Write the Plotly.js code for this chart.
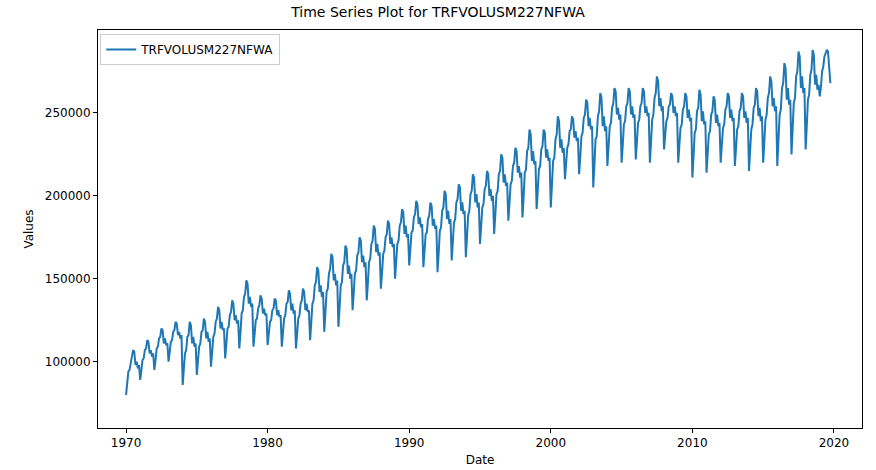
<!DOCTYPE html>
<html>
<head>
<meta charset="utf-8">
<script src="https://cdn.plot.ly/plotly-3.0.1.min.js"></script>
<style>body{margin:0;background:#fff}#chart{width:876px;height:470px}</style>
</head>
<body>
<div id="chart"></div>
<script>
// monthly values in thousands, one row per year, starting 1970
var startYear = 1970;
var rows = [
  [80,87,94,95,100,102,107,106,98,100,96,98],
  [89,95,101,102,107,108,113,112,105,107,103,105],
  [95,101,108,109,114,115,120,119,111,114,110,111],
  [100,106,112,113,118,119,124,123,116,118,114,116],
  [86,96,105,107,115,116,124,122,111,115,109,111],
  [92,101,109,111,118,119,126,124,114,118,112,114],
  [97,106,115,117,124,126,133,131,120,124,119,120],
  [102,111,120,121,128,130,137,135,125,128,123,125],
  [108,118,129,131,139,141,149,147,135,139,133,135],
  [109,117,125,126,132,134,140,138,129,132,128,129],
  [110,117,124,125,131,132,138,137,128,131,127,128],
  [109,118,126,128,135,136,143,141,131,135,129,131],
  [108,117,126,128,135,137,144,142,131,135,130,131],
  [113,124,135,137,146,148,157,155,142,146,139,142],
  [118,130,142,144,153,156,165,163,149,153,146,149],
  [121,133,146,148,158,160,170,168,153,158,150,153],
  [131,142,153,155,164,166,175,173,160,164,157,160],
  [137,148,160,162,171,173,182,180,166,171,164,166],
  [144,154,165,167,175,177,185,183,171,175,169,171],
  [150,161,171,173,182,184,192,190,177,182,175,177],
  [158,168,178,179,187,189,197,195,183,187,181,183],
  [157,167,177,178,186,188,196,194,182,186,180,182],
  [154,166,179,181,191,193,203,201,186,191,183,186],
  [161,173,184,186,196,198,207,205,191,196,189,191],
  [163,176,188,191,201,203,213,211,196,201,193,196],
  [171,182,193,195,204,206,215,213,200,204,197,200],
  [177,189,201,203,213,215,225,223,208,213,206,208],
  [185,196,207,209,218,220,229,227,214,218,211,214],
  [187,200,214,216,227,229,240,237,221,227,219,221],
  [192,204,216,218,228,230,240,238,223,228,221,223],
  [193,207,221,223,234,237,248,245,229,234,226,229],
  [210,220,229,231,239,240,248,246,235,239,233,235],
  [213,224,236,238,247,249,258,256,242,247,240,242],
  [205,219,234,236,248,251,262,259,242,248,239,242],
  [218,230,242,244,253,256,265,263,249,253,246,249],
  [220,231,243,245,254,256,265,263,249,254,247,249],
  [222,233,244,246,254,256,265,263,250,254,248,250],
  [220,233,246,249,259,262,272,269,254,259,251,254],
  [228,237,245,247,254,255,262,260,250,254,248,250],
  [220,231,241,243,252,254,262,260,247,252,245,247],
  [211,224,238,240,251,253,264,261,245,251,243,245],
  [214,226,237,239,249,251,260,258,244,249,242,244],
  [220,231,241,243,252,254,262,260,247,252,245,247],
  [218,229,240,242,251,253,262,260,247,251,244,247],
  [215,228,240,243,253,255,265,263,248,253,245,248],
  [220,233,246,249,259,262,272,269,254,259,251,254],
  [218,234,249,252,265,268,280,277,258,265,255,258],
  [225,241,256,259,272,275,287,284,265,272,262,265],
  [228,243,258,261,273,276,288,285,267,273,264,267],
  [260,266,275,278,284,286,288,287,275,268]
];

var dates = [], values = [];
rows.forEach(function (row, i) {
  row.forEach(function (v, m) {
    var mm = (m + 1 < 10 ? '0' : '') + (m + 1);
    dates.push((startYear + i) + '-' + mm + '-01');
    values.push(v * 1000);
  });
});

var trace = {
  x: dates, y: values, type: 'scatter', mode: 'lines',
  name: 'TRFVOLUSM227NFWA',
  line: {color: '#1f77b4', width: 2}
};

var axisStyle = {
  showgrid: false, zeroline: false, showline: true, mirror: true,
  linecolor: '#000', linewidth: 1, ticks: 'outside', ticklen: 4,
  tickcolor: '#000', tickfont: {size: 12, color: '#000'}
};

var layout = {
  width: 876, height: 470,
  margin: {l: 98, r: 14, t: 30, b: 42},
  paper_bgcolor: '#fff', plot_bgcolor: '#fff',
  font: {family: 'DejaVu Sans', color: '#000'},
  title: {text: 'Time Series Plot for TRFVOLUSM227NFWA', font: {size: 14}, x: 0.5, y: 0.975, yanchor: 'middle'},
  xaxis: Object.assign({}, axisStyle, {
    type: 'date', range: ['1968-01-08', '2021-12-25'],
    tickvals: ['1970-01-01','1980-01-01','1990-01-01','2000-01-01','2010-01-01','2020-01-01'],
    ticktext: ['1970','1980','1990','2000','2010','2020'],
    title: {text: 'Date', font: {size: 12}, standoff: 6}
  }),
  yaxis: Object.assign({}, axisStyle, {
    range: [60000, 300000], tickvals: [100000,150000,200000,250000],
    tickformat: 'd',
    title: {text: 'Values', font: {size: 12}, standoff: 8}
  }),
  showlegend: true,
  legend: {x: 0.003, y: 0.99, xanchor: 'left', yanchor: 'top',
    bordercolor: '#ccc', borderwidth: 1, bgcolor: '#fff', font: {size: 12},
    tracegroupgap: 0, itemwidth: 30}
};

Plotly.newPlot('chart', [trace], layout, {displayModeBar: false, staticPlot: true});
</script>
</body>
</html>
